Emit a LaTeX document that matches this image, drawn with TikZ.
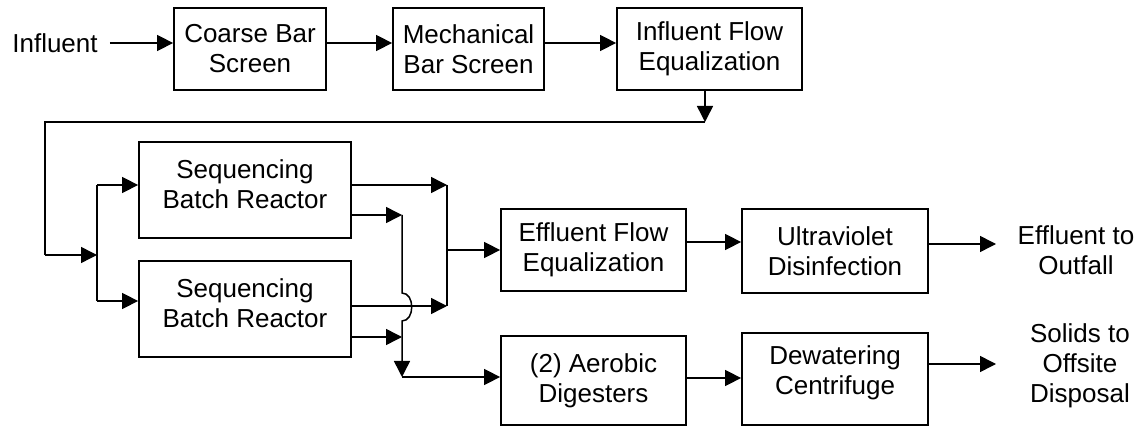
\documentclass[tikz,border=0pt]{standalone}
\usepackage{fontspec}
\setmainfont{Liberation Sans}
\usetikzlibrary{arrows.meta}
\begin{document}
\begin{tikzpicture}[x=1pt,y=-1pt,
  box/.style={draw,line width=1.8pt,inner sep=0pt,align=center,font=\fontsize{26}{30}\selectfont},
  txt/.style={inner sep=0pt,align=center,font=\fontsize{26}{30}\selectfont},
  arr/.style={line width=1.5pt,-{Triangle[length=16pt,width=16pt]}},
  ln/.style={line width=1.5pt}]
\useasboundingbox (0,0) rectangle (1148,427);
% top row
\node[txt] (inf) at (55,43) {Influent};
\node[box,minimum width=152,minimum height=82] (cbs) at (250,49) {Coarse Bar\\Screen};
\node[box,minimum width=151,minimum height=82] (mbs) at (468.5,49) {Mechanical\\Bar Screen};
\node[box,minimum width=185,minimum height=82] (ife) at (709.5,49) {Influent Flow\\Equalization};
% reactors
\node[box,minimum width=212,minimum height=96] (sbr1) at (245,190) {};
\node[txt] (sbr1t) at (245,184) {Sequencing\\Batch Reactor};
\node[box,minimum width=212,minimum height=96] (sbr2) at (245,309) {};
\node[txt] (sbr2t) at (245,303) {Sequencing\\Batch Reactor};
% right part
\node[box,minimum width=185,minimum height=82] (efe) at (593.5,250) {Effluent Flow\\Equalization};
\node[box,minimum width=186,minimum height=84] (uv) at (835,251) {Ultraviolet\\Disinfection};
\node[box,minimum width=185,minimum height=89] (ad) at (593.5,380.5) {(2) Aerobic\\Digesters};
\node[box,minimum width=186,minimum height=92] (dew) at (835,379) {};
\node[txt] (dewt) at (835,373) {Dewatering\\Centrifuge};
\node[txt] (out) at (1076,250) {Effluent to\\Outfall};
\node[txt] (sol) at (1080,366) {Solids to\\Offsite\\Disposal};
% coordinates
\coordinate (c1) at (705,122);
\coordinate (c2) at (45,122);
\coordinate (c3) at (45,255);
\coordinate (sp) at (97,255);
\coordinate (ja) at (447,250);
\coordinate (jb) at (402,377);
\coordinate (oe) at (996,244);
\coordinate (os) at (996,364);
% connectors top
\draw[arr] ([xshift=12pt]inf.east) -- (cbs.west |- inf.east);
\draw[arr] ([yshift=6pt]cbs.east) -- ([yshift=6pt]mbs.west);
\draw[arr] ([yshift=6pt]mbs.east) -- ([yshift=6pt]ife.west);
\draw[arr] (ife.south -| c1) -- (c1);
\draw[ln] (c1) -- (c2) -- (c3);
\draw[arr] (c3) -- (sp);
\draw[ln] (sp |- 0,185) -- (sp |- 0,301);
\draw[arr] (sp |- 0,185) -- (sbr1.west |- 0,185);
\draw[arr] (sp |- 0,301) -- (sbr2.west |- 0,301);
% reactor outputs
\draw[arr] (sbr1.east |- 0,185) -- (ja |- 0,185);
\draw[arr] (sbr1.east |- 0,215) -- (jb |- 0,215);
\draw[arr] (sbr2.east |- 0,306) -- (ja |- 0,306);
\draw[arr] (sbr2.east |- 0,337) -- (jb |- 0,337);
\draw[ln] (ja |- 0,185) -- (ja |- 0,306);
\draw[arr] (ja) -- (efe.west |- ja);
\draw[arr] (jb |- 0,215) -- (jb |- 0,293) .. controls (415,293) and (415,321) .. (jb |- 0,321) -- (jb);
\draw[arr] (jb) -- (ad.west |- jb);
% right connectors
\draw[arr] (efe.east |- 0,242) -- (uv.west |- 0,242);
\draw[arr] (uv.east |- oe) -- (oe);
\draw[arr] (ad.east |- 0,378) -- (dew.west |- 0,378);
\draw[arr] (dew.east |- os) -- (os);
\end{tikzpicture}
\end{document}
